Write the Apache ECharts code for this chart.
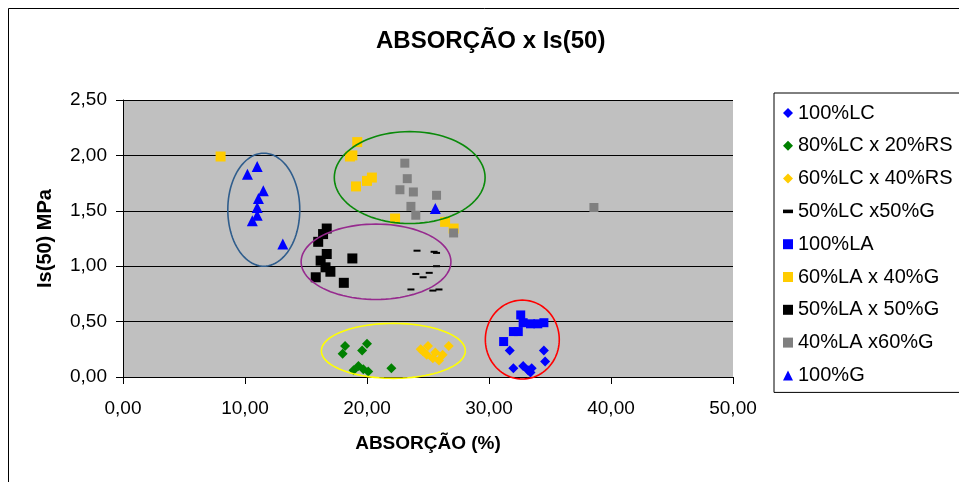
<!DOCTYPE html>
<html>
<head>
<meta charset="utf-8">
<script src="https://cdn.jsdelivr.net/npm/echarts@6/dist/echarts.min.js"></script>
<style>html,body{margin:0;padding:0;background:#fff;}#c{width:959px;height:482px;}</style>
</head>
<body>
<div id="c"></div>
<script>
const seriesNames = ['100%LC','80%LC x 20%RS','60%LC x 40%RS','50%LC x50%G','100%LA','60%LA x 40%G','50%LA x 50%G','40%LA x60%G','100%G'];
const s100LC = [[31.7,0.24],[34.5,0.24],[34.6,0.14],[32.0,0.08],[32.8,0.10],[33.2,0.06],[33.5,0.08],[33.4,0.04]];
const s80LC20RS = [[18.2,0.28],[18.0,0.21],[20.0,0.30],[19.6,0.24],[18.9,0.06],[19.3,0.10],[19.7,0.07],[20.1,0.05],[22.0,0.08]];
const s60LC40RS = [[24.4,0.25],[25.0,0.28],[26.7,0.28],[24.9,0.20],[25.6,0.22],[25.4,0.17],[25.9,0.15],[26.2,0.20],[24.6,0.23]];
const s50LC50G = [[24.1,1.14],[25.5,1.13],[25.7,1.12],[25.7,1.00],[24.0,0.93],[25.1,0.94],[24.6,0.90],[23.6,0.79],[25.4,0.78],[25.9,0.79]];
const s100LA = [[32.6,0.56],[32.8,0.49],[33.4,0.48],[34.0,0.48],[34.5,0.49],[32.0,0.41],[32.4,0.41],[31.2,0.32]];
const s60LA40G = [[8.0,1.99],[19.2,2.12],[18.8,2.00],[18.6,1.99],[19.1,1.72],[20.0,1.77],[20.4,1.80],[22.3,1.43],[26.4,1.40],[27.1,1.34]];
const s50LA50G = [[16.7,1.34],[16.4,1.29],[16.0,1.22],[16.7,1.11],[16.2,1.05],[16.6,0.99],[17.0,0.95],[15.8,0.90],[18.1,0.85],[18.8,1.07]];
const s40LA60G = [[23.1,1.93],[23.3,1.79],[22.7,1.69],[23.8,1.67],[25.7,1.64],[23.6,1.54],[24.0,1.46],[27.1,1.30],[38.6,1.53]];
const s100G = [[11.0,1.90],[10.2,1.83],[11.5,1.68],[11.1,1.61],[11.0,1.53],[11.0,1.46],[10.6,1.41],[13.1,1.20],[25.6,1.52]];
// annotation ellipses: [centerX, centerY, radiusX, radiusY] in data units
const ellipses = [[11.54,1.51,2.95,0.51],[23.5,1.80,6.18,0.415],[20.74,1.04,6.14,0.34],[22.16,0.236,5.9,0.248],[32.73,0.338,3.03,0.356]];
const ellipseColors = ['#2f5d8c','#0a8a0a','#962a8e','#ffff00','#ff0000'];
const xTickLabels = ['0,00','10,00','20,00','30,00','40,00','50,00'];
const yTickLabels = ['0,00','0,50','1,00','1,50','2,00','2,50'];

const FONT = 'Liberation Sans, Arial, sans-serif';
const allData = [s100LC,s80LC20RS,s60LC40RS,s50LC50G,s100LA,s60LA40G,s50LA50G,s40LA60G,s100G];
const colors = ['#0000ff','#008000','#ffcc00','#000000','#0000ff','#ffcc00','#000000','#808080','#0000ff'];
const symbols = ['diamond','diamond','diamond','rect','rect','rect','rect','rect','triangle'];
const sizes = [10,10,10,[7,2],9,10,10,9,11];

const chart = echarts.init(document.getElementById('c'), null, {renderer:'canvas'});
const series = allData.map((d,i)=>({
  name: seriesNames[i], type:'scatter', data:d, symbol:symbols[i], symbolSize:sizes[i],
  itemStyle:{color:colors[i], opacity:1}, emphasis:{disabled:true}, z:3
}));
series.push({
  type:'custom', name:'ellipses', silent:true, clip:false, z:4,
  data: ellipses.map((e,i)=>[e[0],e[1],e[2],e[3],i]),
  encode:{x:0,y:1},
  renderItem:function(params, api){
    const c = api.coord([api.value(0), api.value(1)]);
    const s = api.size([api.value(2), api.value(3)]);
    const pts = [];
    for(let k=0;k<=96;k++){const a=k/96*Math.PI*2; pts.push([c[0]+s[0]*Math.cos(a), c[1]+s[1]*Math.sin(a)]);}
    return {type:'polyline', shape:{points:pts}, style:{stroke:ellipseColors[api.value(4)], lineWidth:1.6, fill:null}};
  }
});

chart.setOption({
  animation:false,
  backgroundColor:'#ffffff',
  title:{text:'ABSORÇÃO x Is(50)', left:376, top:29, padding:0,
    textStyle:{fontFamily:FONT, fontSize:24, fontWeight:'bold', color:'#000'}},
  graphic:[{type:'rect', shape:{x:8.5,y:8.5,width:1000,height:600}, style:{fill:null, stroke:'#000', lineWidth:1}, z:-1, silent:true}],
  grid:{left:123, right:226, top:100, bottom:105, show:true, backgroundColor:'#c0c0c0', borderWidth:0},
  legend:{
    orient:'vertical', left:774, top:93, padding:[10,40,7,9], itemGap:12.8,
    itemWidth:10, itemHeight:10, borderColor:'#000', borderWidth:1, backgroundColor:'#fff',
    selectedMode:false,
    textStyle:{fontFamily:FONT, fontSize:20, color:'#000', lineHeight:20},
    data: seriesNames.map((n,i)=> i===3 ? {name:n, icon:'path://M0,4L7,4L7,6.5L0,6.5Z'} : {name:n})
  },
  xAxis:{type:'value', min:0, max:50, interval:10,
    name:'ABSORÇÃO (%)', nameLocation:'middle', nameGap:57,
    nameTextStyle:{fontFamily:FONT, fontSize:19, fontWeight:'bold', color:'#000'},
    axisLine:{show:true, lineStyle:{color:'#000', width:1}},
    axisTick:{show:true, length:7, lineStyle:{color:'#000'}},
    axisLabel:{margin:22, fontFamily:FONT, fontSize:19, color:'#000',
      formatter:(v)=>xTickLabels[Math.round(v/10)]},
    splitLine:{show:false}
  },
  yAxis:{type:'value', min:0, max:2.5, interval:0.5,
    name:'Is(50) MPa', nameLocation:'middle', nameGap:68,
    nameTextStyle:{fontFamily:FONT, fontSize:20, fontWeight:'bold', color:'#000'},
    axisLine:{show:true, lineStyle:{color:'#000', width:1}},
    axisTick:{show:true, length:7, lineStyle:{color:'#000'}},
    axisLabel:{margin:16, fontFamily:FONT, fontSize:19, color:'#000',
      formatter:(v)=>yTickLabels[Math.round(v/0.5)]},
    splitLine:{show:true, lineStyle:{color:'#000', width:1}}
  },
  series:series
});
</script>
</body>
</html>
